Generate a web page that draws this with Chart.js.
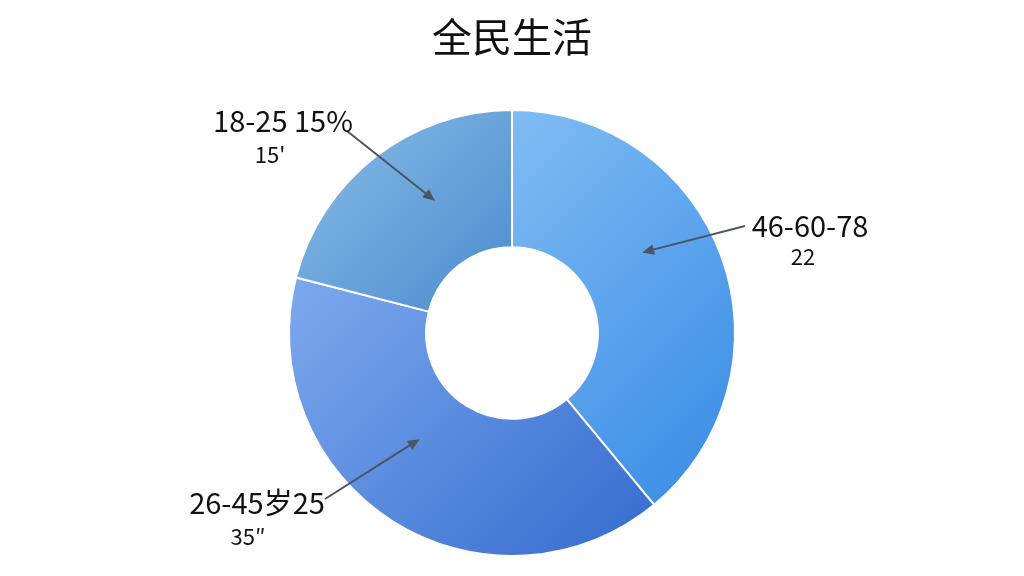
<!DOCTYPE html>
<html>
<head>
<meta charset="utf-8">
<script src="https://cdn.jsdelivr.net/npm/chart.js@4.4.1/dist/chart.umd.min.js"></script>
<style>
  html, body { margin: 0; padding: 0; background: #fff; }
  #wrap { width: 1024px; height: 576px; }
</style>
</head>
<body>
<div id="wrap"><canvas id="pie"></canvas></div>
<script>
// 数据
const labels = ['46-60', '26-45', '18-25'];
const values = [39, 40, 21];
const labelLine1 = ['46-60-78', '26-45岁25', '18-25 15%'];
const labelLine2 = ['22', '35″', "15'"];

// 渐变颜色 [起点, 终点, 起点位置, 终点位置]
const grads = [
    ['#86c0f5', '#3a8de6', 0.2, 0.9],
    ['#7eaaee', '#3a70d0', 0.18, 0.85],
    ['#7bb2e1', '#4e8dd0', 0.12, 0.45]
];

const INK = '#111111';
const ARROW = '#4b5563';

// 标注位置 (文字中心, 箭头在扇区内的比例)
const callouts = [
    { x: 810, y: 226, x2: 803, y2: 257, from: [745, 226], f: 0.415, g: 0.49 },
    { x: 257, y: 503, x2: 248, y2: 537, from: [325, 499], f: 0.56, g: 0.40 },
    { x: 283, y: 121, x2: 270, y2: 155, from: [347, 131], f: 0.60, g: 0.49 }
];

const calloutPlugin = {
    id: 'callouts',
    afterDatasetsDraw(chart) {
        const ctx = chart.ctx;
        const arcs = chart.getDatasetMeta(0).data;
        arcs.forEach((arc, i) => {
            const c = callouts[i];
            const p = arc.getProps(['x', 'y', 'startAngle', 'endAngle', 'innerRadius', 'outerRadius'], true);
            const a = p.startAngle + c.f * (p.endAngle - p.startAngle);
            const r = p.innerRadius + c.g * (p.outerRadius - p.innerRadius);
            const tx = p.x + r * Math.cos(a);
            const ty = p.y + r * Math.sin(a);
            const [fx, fy] = c.from;
            const ang = Math.atan2(ty - fy, tx - fx);
            const head = 13;

            ctx.save();
            ctx.strokeStyle = ARROW;
            ctx.fillStyle = ARROW;
            ctx.lineWidth = 2;
            ctx.beginPath();
            ctx.moveTo(fx, fy);
            ctx.lineTo(tx - Math.cos(ang) * head * 0.8, ty - Math.sin(ang) * head * 0.8);
            ctx.stroke();
            ctx.beginPath();
            ctx.moveTo(tx, ty);
            ctx.lineTo(tx - head * Math.cos(ang - 0.42), ty - head * Math.sin(ang - 0.42));
            ctx.lineTo(tx - head * Math.cos(ang + 0.42), ty - head * Math.sin(ang + 0.42));
            ctx.closePath();
            ctx.fill();

            ctx.fillStyle = INK;
            ctx.textAlign = 'center';
            ctx.textBaseline = 'middle';
            ctx.font = "29px 'Noto Sans CJK SC', 'Noto Sans', sans-serif";
            ctx.fillText(labelLine1[i], c.x, c.y);
            ctx.font = "22px 'Noto Sans CJK SC', 'Noto Sans', sans-serif";
            ctx.fillText(labelLine2[i], c.x2, c.y2);
            ctx.restore();
        });
    }
};

new Chart(document.getElementById('pie'), {
    type: 'doughnut',
    data: {
        labels: labels,
        datasets: [{
            data: values,
            backgroundColor: (context) => {
                const area = context.chart.chartArea;
                if (!area) return '#5b9be6';
                const g = grads[context.dataIndex];
                const cx = (area.left + area.right) / 2;
                const half = (area.bottom - area.top) / 2;
                const lg = context.chart.ctx.createLinearGradient(cx - half, area.top, cx + half, area.bottom);
                lg.addColorStop(g[2], g[0]);
                lg.addColorStop(g[3], g[1]);
                return lg;
            },
            borderColor: '#ffffff',
            borderWidth: 2
        }]
    },
    options: {
        responsive: true,
        maintainAspectRatio: false,
        animation: false,
        cutout: '38.5%',
        layout: { padding: { top: 0, bottom: 19 } },
        plugins: {
            legend: { display: false },
            tooltip: { enabled: false },
            title: {
                display: true,
                text: '全民生活',
                color: INK,
                font: { size: 40, weight: 'normal', family: "'Noto Sans CJK SC', sans-serif" },
                padding: { top: 13, bottom: 48 }
            }
        }
    },
    plugins: [calloutPlugin]
});
</script>
</body>
</html>
